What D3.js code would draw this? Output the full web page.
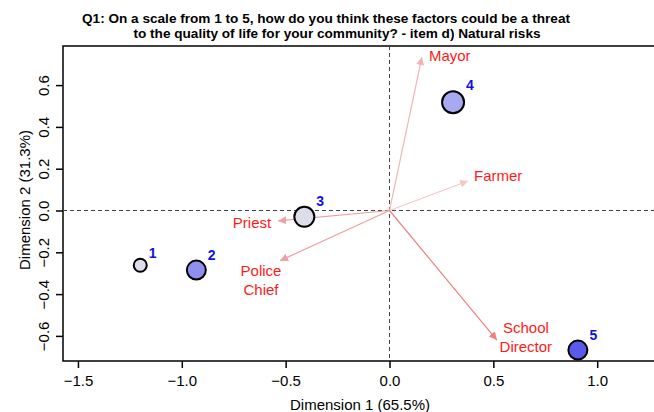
<!DOCTYPE html>
<html>
<head>
<meta charset="utf-8">
<script src="https://d3js.org/d3.v7.min.js"></script>
<style>
  body { margin: 0; background: #fff; font-family: Arial, "Liberation Sans", sans-serif; }
  svg text { font-family: Arial, "Liberation Sans", sans-serif; }
</style>
</head>
<body>
<div id="area"></div>
<script>
// row points (answer categories 1..5)
var cats = ["1", "2", "3", "4", "5"];
var dim1 = [-1.20, -0.93, -0.41, 0.306, 0.907];
var dim2 = [-0.262, -0.285, -0.03, 0.518, -0.668];
var ptSize = [6.5, 9.5, 10, 11, 9.5];
var ptFill = ["#dcdcea", "#8f8ff0", "#dcdcea", "#a9a9f2", "#5a5aea"];

// column arrows (respondents)
var actors = ["Mayor", "Farmer", "Priest", "Police\nChief", "School\nDirector"];
var arrX = [0.156, 0.378, -0.536, -0.527, 0.517];
var arrY = [0.734, 0.141, -0.05, -0.24, -0.62];
var arrCol = ["#f1b3b3", "#f2c9c9", "#eea0a0", "#eea0a0", "#ee8080"];

var xTicks = [-1.5, -1.0, -0.5, 0.0, 0.5, 1.0];
var yTicks = [-0.6, -0.4, -0.2, 0.0, 0.2, 0.4, 0.6];

var W = 654, H = 412;
var box = {left: 63, top: 46, right: 660, bottom: 361};

var svg = d3.select("#area").append("svg")
  .attr("width", W).attr("height", H);

var x = d3.scaleLinear().domain([0, 1]).range([389.5, 597.2]);
var y = d3.scaleLinear().domain([0, 1]).range([210.5, 1.5]);

var fmt = function(d) { return d3.format(".1f")(d).replace("-", "\u2212"); };

// title
svg.append("text").attr("x", 326).attr("y", 23)
  .attr("text-anchor", "middle").attr("font-size", 13.6).attr("font-weight", "bold")
  .text("Q1: On a scale from 1 to 5, how do you think these factors could be a threat");
svg.append("text").attr("x", 337).attr("y", 38)
  .attr("text-anchor", "middle").attr("font-size", 13.6).attr("font-weight", "bold")
  .text("to  the quality of life for  your community? - item d) Natural risks");

// axes
svg.append("g")
  .attr("transform", "translate(0," + box.bottom + ")")
  .call(d3.axisBottom(x).tickValues(xTicks).tickSize(7).tickPadding(0).tickFormat(fmt))
  .call(function(g) { g.select(".domain").remove(); })
  .call(function(g) {
    g.selectAll("line").attr("stroke", "#000").attr("stroke-width", 1.5);
    g.selectAll("text").attr("font-size", 15).attr("fill", "#000")
      .attr("y", 25).attr("dy", 0);
  });

svg.append("g")
  .attr("transform", "translate(" + box.left + ",0)")
  .call(d3.axisLeft(y).tickValues(yTicks).tickSize(7).tickFormat(fmt))
  .call(function(g) { g.select(".domain").remove(); })
  .call(function(g) {
    g.selectAll("line").attr("stroke", "#000").attr("stroke-width", 1.5);
    g.selectAll("text").attr("font-size", 15).attr("fill", "#000")
      .attr("x", 0).attr("dy", 0)
      .attr("text-anchor", "middle")
      .attr("transform", "translate(-14,0) rotate(-90)");
  });

// axis titles
svg.append("text").attr("x", 360).attr("y", 410)
  .attr("text-anchor", "middle").attr("font-size", 15)
  .text("Dimension 1 (65.5%)");
svg.append("text")
  .attr("transform", "translate(30,200) rotate(-90)")
  .attr("text-anchor", "middle").attr("font-size", 15)
  .text("Dimension 2 (31.3%)");

// box
svg.append("rect")
  .attr("x", box.left).attr("y", box.top)
  .attr("width", box.right - box.left).attr("height", box.bottom - box.top)
  .attr("fill", "none").attr("stroke", "#000").attr("stroke-width", 1.5);

// reference lines
svg.append("line")
  .attr("x1", box.left).attr("x2", box.right)
  .attr("y1", y(0)).attr("y2", y(0))
  .attr("stroke", "#444").attr("stroke-dasharray", "4,3");
svg.append("line")
  .attr("x1", x(0)).attr("x2", x(0))
  .attr("y1", box.top).attr("y2", box.bottom)
  .attr("stroke", "#444").attr("stroke-dasharray", "4,3");

// arrows
var defs = svg.append("defs");
arrCol.forEach(function(c, i) {
  defs.append("marker")
    .attr("id", "ah" + i)
    .attr("viewBox", "0 0 10 10")
    .attr("refX", 10).attr("refY", 5)
    .attr("markerWidth", 8).attr("markerHeight", 8)
    .attr("markerUnits", "userSpaceOnUse")
    .attr("orient", "auto")
    .append("path").attr("d", "M0,0 L10,5 L0,10 Z").attr("fill", c);
});

actors.forEach(function(a, i) {
  svg.append("line")
    .attr("x1", x(0)).attr("y1", y(0))
    .attr("x2", x(arrX[i])).attr("y2", y(arrY[i]))
    .attr("stroke", arrCol[i]).attr("stroke-width", 1.2)
    .attr("marker-end", "url(#ah" + i + ")");
});

// actor labels
var lblPos = [
  {dx: 7, dy: 4, anchor: "start"},
  {dx: 6, dy: 0, anchor: "start"},
  {dx: -7, dy: 7, anchor: "end"},
  {dx: -19, dy: 15, anchor: "middle"},
  {dx: 29, dy: -7, anchor: "middle"}
];
actors.forEach(function(a, i) {
  var t = svg.append("text")
    .attr("x", x(arrX[i]) + lblPos[i].dx)
    .attr("y", y(arrY[i]) + lblPos[i].dy)
    .attr("text-anchor", lblPos[i].anchor)
    .attr("font-size", 15).attr("fill", "#ff1a1a");
  a.split("\n").forEach(function(part, k) {
    t.append("tspan").attr("x", x(arrX[i]) + lblPos[i].dx)
      .attr("dy", k === 0 ? 0 : 19).text(part);
  });
});

// points
cats.forEach(function(c, i) {
  svg.append("circle")
    .attr("cx", x(dim1[i])).attr("cy", y(dim2[i]))
    .attr("r", ptSize[i])
    .attr("fill", ptFill[i]).attr("stroke", "#000").attr("stroke-width", 2);
  svg.append("text")
    .attr("x", x(dim1[i]) + ptSize[i] + 2)
    .attr("y", y(dim2[i]) - ptSize[i] - 1)
    .attr("font-size", 14).attr("font-weight", "bold").attr("fill", "#1010e0")
    .text(c);
});
</script>
</body>
</html>
